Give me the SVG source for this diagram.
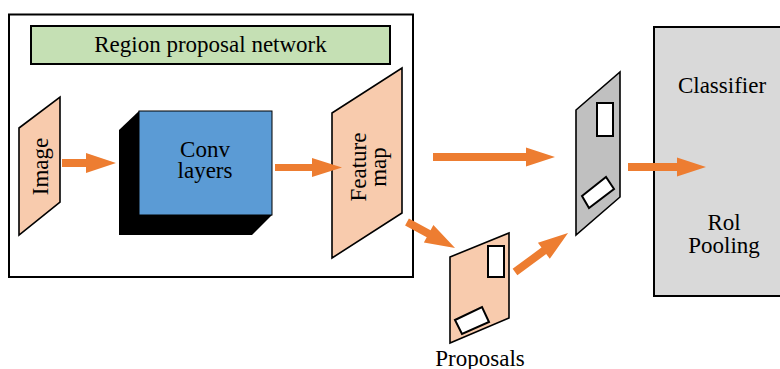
<svg xmlns="http://www.w3.org/2000/svg" width="780" height="369" viewBox="0 0 780 369">
<style>
.t{font-family:"Liberation Serif","Times New Roman",serif;font-size:23px;fill:#000;text-anchor:middle}
.arrow{fill:#ED7D31}
.peach{fill:#F8CBAD;stroke:#000;stroke-width:1.6}
.hole{fill:#fff;stroke:#000;stroke-width:2}
</style>
<rect width="780" height="369" fill="#fff"/>
<g id="rpn-frame">
<rect x="9" y="14.5" width="404" height="262.5" fill="none" stroke="#000" stroke-width="2"/>
</g>
<g id="rpn-title">
<rect x="31" y="26" width="359" height="38" fill="#C5E0B4" stroke="#000" stroke-width="2"/>
<text class="t" x="210.5" y="52">Region proposal network</text>
</g>
<g id="image">
<polygon class="peach" points="19,128 60,97 60,202 19,235"/>
<text class="t" transform="translate(47.5,166.5) rotate(-90)">Image</text>
</g>
<g id="conv">
<polygon points="119,130 139,111 272,111 272,215 252,235 119,235" fill="#000"/>
<rect x="139" y="111" width="133" height="104" fill="#5B9BD5" stroke="#000" stroke-width="1"/>
<text class="t" x="205" y="157">Conv</text>
<text class="t" x="205" y="178">layers</text>
</g>
<g id="feature-map">
<polygon class="peach" points="332,113 402,68 402,213 332,258"/>
<text class="t" transform="translate(366,167) rotate(-90)">Feature</text>
<text class="t" transform="translate(385.5,167) rotate(-90)">map</text>
</g>
<g id="proposals">
<polygon class="peach" points="450,257 509,233 509,318 450,343"/>
<rect class="hole" x="488" y="246" width="16" height="31"/>
<polygon class="hole" points="455,320 482,307 489,322 462,334"/>
<text class="t" x="480" y="366">Proposals</text>
</g>
<g id="roi-map">
<polygon points="576,110 620,72 620,197 576,235" fill="#C0C0C0" stroke="#000" stroke-width="1.6"/>
<rect class="hole" x="597" y="103" width="16" height="33"/>
<polygon class="hole" points="582,196 606,177 614,189 589,208"/>
</g>
<g id="classifier">
<rect x="654" y="27" width="130" height="269" fill="#D9D9D9" stroke="#000" stroke-width="2"/>
<text class="t" x="722" y="93">Classifier</text>
<text class="t" x="724" y="230">Rol</text>
<text class="t" x="724" y="253">Pooling</text>
</g>
<g id="connectors">
<polygon class="arrow" points="62,159 86,159 86,153 116,163 86,173 86,167 62,167"/>
<polygon class="arrow" points="275,164 312,164 312,158 342,167.5 312,177 312,171 275,171"/>
<polygon class="arrow" points="433,153 526,153 526,147.5 555,157 526,166.5 526,161 433,161"/>
<polygon class="arrow" points="628,163 677,163 677,157.5 706,167 677,176.5 677,171 628,171"/>
<polygon class="arrow" transform="translate(407,222) rotate(28.4)" points="0,-4 24.6,-4 24.6,-10 54.6,0 24.6,10 24.6,4 0,4"/>
<polygon class="arrow" transform="translate(515,272) rotate(-36.3)" points="0,-4 35.8,-4 35.8,-10 65.8,0 35.8,10 35.8,4 0,4"/>
</g>
</svg>
